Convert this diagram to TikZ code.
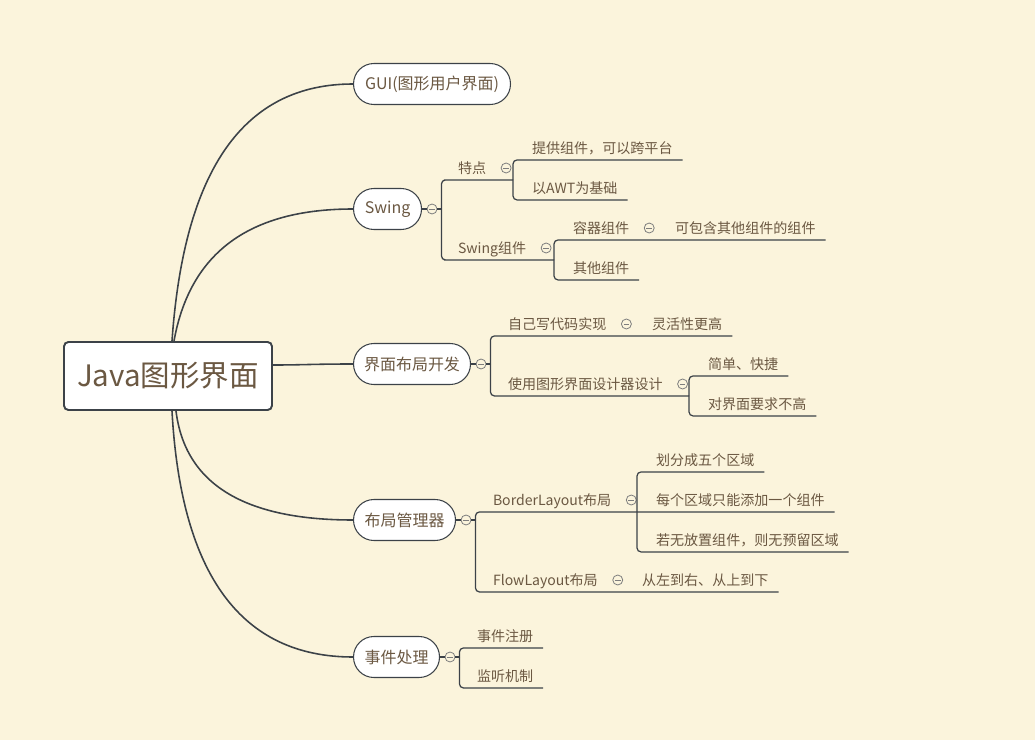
\documentclass[tikz,border=0pt]{standalone}
\usepackage{fontspec}
\setmainfont{Noto Sans CJK SC}
\definecolor{bgcol}{RGB}{251,244,220}
\definecolor{linecol}{RGB}{60,66,72}
\definecolor{txtcol}{RGB}{107,88,66}
\definecolor{foldcol}{RGB}{125,125,125}
\tikzset{
  root/.style={draw=linecol, line width=1.1pt, fill=white, rounded corners=2.5pt,
    minimum width=4.16cm, minimum height=1.36cm, text=txtcol,
    font=\fontsize{16.8}{20}\selectfont},
  pill/.style={draw=linecol, line width=0.6pt, fill=white, rounded corners=11.6pt,
    minimum height=0.82cm, inner xsep=0pt, anchor=west, text=txtcol,
    font=\fontsize{9.1}{11}\selectfont},
  topic/.style={anchor=west, inner xsep=0.2cm, inner ysep=3.3pt, outer sep=0pt,
    text height=6.5pt, text depth=0.5pt, text=txtcol,
    font=\fontsize{8}{9.6}\selectfont},
  fold/.style={circle, draw=foldcol, fill=bgcol, minimum size=0.2cm, inner sep=0pt,
    line width=0.45pt,
    path picture={\draw[foldcol, line width=0.45pt]
      ([xshift=-1.6pt]path picture bounding box.center) --
      ([xshift=1.6pt]path picture bounding box.center);}},
  branch/.style={draw=linecol, line width=0.9pt},
  tree/.style={draw=linecol, line width=0.7pt, rounded corners=2.3pt},
}
\begin{document}
\begin{tikzpicture}[x=0.02cm, y=-0.02cm]
  \fill[bgcol] (0,0) rectangle (1035,740);
  \useasboundingbox (0,0) rectangle (1035,740);

  % central topic
  \node[root] (java) at (168,376) {Java图形界面};

  % main branches
  \node[pill, minimum width=3.14cm] (gui) at (353,84) {GUI(图形用户界面)};
  \node[pill, minimum width=1.36cm] (swing) at (353,209) {Swing};
  \node[pill, minimum width=2.34cm] (kaifa) at (353,364) {界面布局开发};
  \node[pill, minimum width=2.04cm] (guanli) at (353,520) {布局管理器};
  \node[pill, minimum width=1.72cm] (shijian) at (353,657) {事件处理};

  \draw[branch] ([shift={(4,0)}]java.north)
    .. controls ([shift={(16,-172)}]java.north) and ([shift={(-109,0)}]gui.west) .. (gui.west);
  \draw[branch] ([shift={(6,0)}]java.north)
    .. controls ([shift={(22,-89)}]java.north) and ([shift={(-103,0)}]swing.west) .. (swing.west);
  \draw[branch] ([shift={(0,-11)}]java.east)
    .. controls ([shift={(30,-11)}]java.east) and ([shift={(-40,0)}]kaifa.west) .. (kaifa.west);
  \draw[branch] ([shift={(8,0)}]java.south)
    .. controls ([shift={(17,73)}]java.south) and ([shift={(-109,0)}]guanli.west) .. (guanli.west);
  \draw[branch] ([shift={(4,0)}]java.south)
    .. controls ([shift={(13,165)}]java.south) and ([shift={(-111,0)}]shijian.west) .. (shijian.west);

  % Swing
  \node[fold] (swingc) at ([shift={(10,0)}]swing.east) {};
  \node[topic] (tedian) at (448,168) {特点};
  \node[fold] (tedianc) at ([shift={(10,0)}]tedian.east) {};
  \node[topic] (tigong) at (522,148) {提供组件，可以跨平台};
  \node[topic] (awt) at (522,188) {以AWT为基础};
  \node[topic] (swingzj) at (448,248) {Swing组件};
  \node[fold] (swingzjc) at ([shift={(10,0)}]swingzj.east) {};
  \node[topic] (rongqi) at (563,228) {容器组件};
  \node[fold] (rongqic) at ([shift={(10,0)}]rongqi.east) {};
  \node[topic] (kebaohan) at (665,228) {可包含其他组件的组件};
  \node[topic] (qita) at (563,268) {其他组件};
  \coordinate (tedian-v) at ([shift={(-9,0)}]tigong.west);
  \coordinate (swingzj-v) at ([shift={(-9,0)}]rongqi.west);
  \coordinate (rongqi-v) at ([shift={(-9,0)}]kebaohan.west);

  \draw[tree] (swing.east) -- (swingc.west);
  \draw[tree] (swingc.east) -- ++(4,0) coordinate (swing-j);
  \draw[tree] (swing-j) |- (tedian.south west) -- (tedian-v |- tedian.south);
  \draw[tree] (swing-j) |- (swingzj.south west) -- (swingzj-v |- swingzj.south);
  \draw[tree] (tedian-v |- tedian.south) |- (tigong.south west) -- (tigong.south east);
  \draw[tree] (tedian-v |- tedian.south) |- (awt.south west) -- (awt.south east);
  \draw[tree] (swingzj-v |- swingzj.south) |- (rongqi.south west) -- (rongqi-v |- rongqi.south)
    -- (kebaohan.south east);
  \draw[tree] (swingzj-v |- swingzj.south) |- (qita.south west) -- (qita.south east);

  % 界面布局开发
  \node[fold] (kaifac) at ([shift={(10,0)}]kaifa.east) {};
  \node[topic] (ziji) at (498,324) {自己写代码实现};
  \node[fold] (zijic) at ([shift={(10,0)}]ziji.east) {};
  \node[topic] (linghuo) at (642,324) {灵活性更高};
  \node[topic] (sheji) at (498,384) {使用图形界面设计器设计};
  \node[fold] (shejic) at ([shift={(10,0)}]sheji.east) {};
  \node[topic] (jiandan) at (698,364) {简单、快捷};
  \node[topic] (yaoqiu) at (698,404) {对界面要求不高};
  \coordinate (ziji-v) at ([shift={(-9,0)}]linghuo.west);
  \coordinate (sheji-v) at ([shift={(-9,0)}]jiandan.west);

  \draw[tree] (kaifa.east) -- (kaifac.west);
  \draw[tree] (kaifac.east) -- ++(4,0) coordinate (kaifa-j);
  \draw[tree] (kaifa-j) |- (ziji.south west) -- (ziji-v |- ziji.south) -- (linghuo.south east);
  \draw[tree] (kaifa-j) |- (sheji.south west) -- (sheji-v |- sheji.south);
  \draw[tree] (sheji-v |- sheji.south) |- (jiandan.south west) -- (jiandan.south east);
  \draw[tree] (sheji-v |- sheji.south) |- (yaoqiu.south west) -- (yaoqiu.south east);

  % 布局管理器
  \node[fold] (guanlic) at ([shift={(10,0)}]guanli.east) {};
  \node[topic] (border) at (483,500) {BorderLayout布局};
  \node[fold] (borderc) at ([shift={(10,0)}]border.east) {};
  \node[topic] (huafen) at (646,460) {划分成五个区域};
  \node[topic] (meige) at (646,500) {每个区域只能添加一个组件};
  \node[topic] (ruowu) at (646,540) {若无放置组件，则无预留区域};
  \node[topic] (flow) at (483,580) {FlowLayout布局};
  \node[fold] (flowc) at ([shift={(10,0)}]flow.east) {};
  \node[topic] (zuoyou) at (632,580) {从左到右、从上到下};
  \coordinate (border-v) at ([shift={(-9,0)}]huafen.west);
  \coordinate (flow-v) at ([shift={(-9,0)}]zuoyou.west);

  \draw[tree] (guanli.east) -- (guanlic.west);
  \draw[tree] (guanlic.east) -- ++(4,0) coordinate (guanli-j);
  \draw[tree] (guanli-j) |- (border.south west) -- (border-v |- border.south) -- (meige.south east);
  \draw[tree] (guanli-j) |- (flow.south west) -- (flow-v |- flow.south) -- (zuoyou.south east);
  \draw[tree] (border-v |- border.south) |- (huafen.south west) -- (huafen.south east);
  \draw[tree] (border-v |- border.south) |- (ruowu.south west) -- (ruowu.south east);

  % 事件处理
  \node[fold] (shijianc) at ([shift={(10,0)}]shijian.east) {};
  \node[topic] (zhuce) at (467,636) {事件注册};
  \node[topic] (jianting) at (467,676) {监听机制};

  \draw[tree] (shijian.east) -- (shijianc.west);
  \draw[tree] (shijianc.east) -- ++(4,0) coordinate (shijian-j);
  \draw[tree] (shijian-j) |- (zhuce.south west) -- (zhuce.south east);
  \draw[tree] (shijian-j) |- (jianting.south west) -- (jianting.south east);
\end{tikzpicture}
\end{document}
